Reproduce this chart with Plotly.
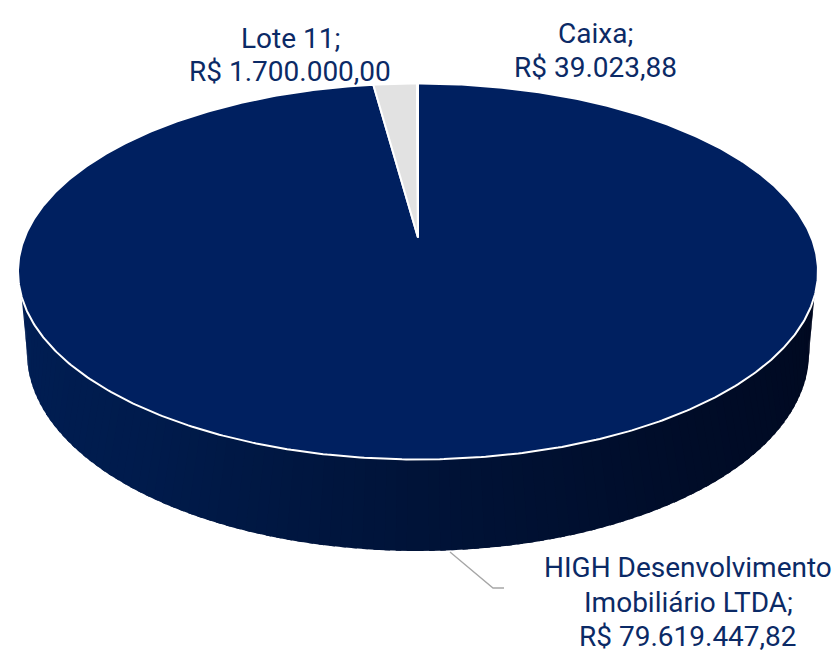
import numpy as np
import plotly.graph_objects as go

categories = ["HIGH Desenvolvimento<br>Imobiliário LTDA;", "Lote 11;", "Caixa;"]
values = [79619447.82, 1700000.00, 39023.88]
value_labels = ["R$ 79.619.447,82", "R$ 1.700.000,00", "R$ 39.023,88"]
slice_colors = ["#002060", "#e2e2e2", "#8c8c8c"]

WIDTH, HEIGHT = 834, 655
CX, CY, RX, RY = 418.0, 271.5, 400.0, 188.0
APEX_SHIFT = 34.0 / RY
BX, BY, BRX, BRY = 418.0, 353.0, 391.0, 198.0
RIM_LIFT = 25.0 / RY
TEXT = "#0b2a66"
LABEL_X = [688, 290, 595]
LABEL_Y = [[567, 602, 636], [38, 71], [33, 67]]

wall_stops = [(0.0, (0, 30, 84)), (0.25, (0, 27, 76)), (0.5, (0, 19, 56)),
              (0.75, (0, 12, 40)), (1.0, (0, 9, 32))]


def rim(theta):
    """Perspective point of the top ellipse for clockwise angle theta from 12 o'clock."""
    u, v = np.sin(theta), np.cos(theta)
    c = APEX_SHIFT
    d = 1 + c * v
    return CX + RX * u * np.sqrt(1 - c * c) / d, CY - RY * (v + c) / d


def wall_color(f):
    pos = [s[0] for s in wall_stops]
    rgb = [np.interp(f, pos, [s[1][i] for s in wall_stops]) for i in range(3)]
    return "rgb(%d,%d,%d)" % tuple(round(x) for x in rgb)


fig = go.Figure()

# side wall
n = 110
a0 = np.arcsin(RIM_LIFT)
for i in range(n):
    f = np.array([i / n, (i + 1.5) / n])
    f[1] = min(f[1], 1.0)
    up = a0 + f * (np.pi - 2 * a0)
    lo = f * np.pi
    xu = CX - RX * np.cos(up)
    yu = CY + RY * np.sin(up)
    xl = BX - BRX * np.cos(lo)
    yl = BY + BRY * np.sin(lo)
    fig.add_trace(go.Scatter(
        x=[xu[0], xu[1], xl[1], xl[0], xu[0]], y=[yu[0], yu[1], yl[1], yl[0], yu[0]],
        mode="lines", line=dict(width=0), fill="toself",
        fillcolor=wall_color((i + 0.5) / n), hoverinfo="skip", showlegend=False))

# top slices, sized from the values
fractions = np.array(values) / sum(values)
edges = np.concatenate([[0.0], np.cumsum(fractions)]) * 2 * np.pi
apex_x, apex_y = CX, CY - RY * APEX_SHIFT
for k, color in enumerate(slice_colors):
    steps = max(4, int(fractions[k] * 720))
    t = np.linspace(edges[k], edges[k + 1], steps)
    x, y = rim(t)
    fig.add_trace(go.Scatter(
        x=np.concatenate([[apex_x], x, [apex_x]]), y=np.concatenate([[apex_y], y, [apex_y]]),
        mode="lines", line=dict(color="white", width=2), fill="toself",
        fillcolor=color, hoverinfo="skip", showlegend=False))

# leader line
leader_x, leader_y = [450, 493, 504], [552, 588, 588]
fig.add_trace(go.Scatter(x=leader_x, y=leader_y, mode="lines",
                         line=dict(color="#a6a6a6", width=1.3),
                         hoverinfo="skip", showlegend=False))

annotations = []
for c, v, lx, lys in zip(categories, value_labels, LABEL_X, LABEL_Y):
    for line, ly in zip(c.split("<br>") + [v], lys):
        annotations.append(dict(x=lx, y=ly, xref="x", yref="y", showarrow=False, align="center",
                                text=line, font=dict(family="Roboto", size=28, color=TEXT)))

fig.update_layout(
    width=WIDTH, height=HEIGHT, margin=dict(l=0, r=0, t=0, b=0),
    paper_bgcolor="white", plot_bgcolor="white", showlegend=False,
    xaxis=dict(range=[0, WIDTH], visible=False, fixedrange=True),
    yaxis=dict(range=[HEIGHT, 0], visible=False, fixedrange=True),
    annotations=annotations)
fig.write_html("out.html", config={"displayModeBar": False},
               post_script="document.body.style.margin='0';document.documentElement.style.overflow='hidden';")
